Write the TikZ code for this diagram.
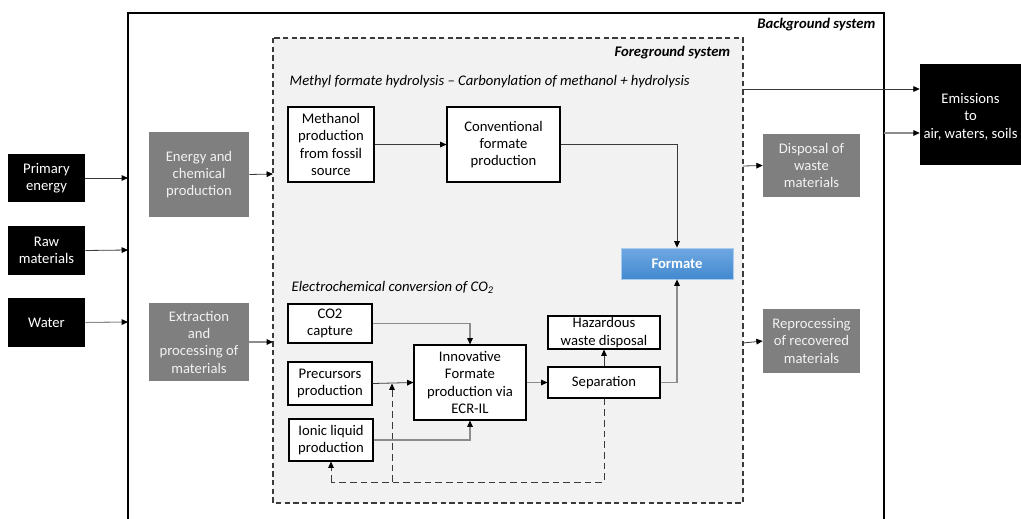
\documentclass[tikz,border=0pt]{standalone}
\usepackage{fontspec}
\setmainfont{Carlito}
\usetikzlibrary{arrows.meta,calc}
\definecolor{boxgray}{HTML}{7F7F7F}
\definecolor{fgfill}{HTML}{F2F2F2}
\definecolor{linedark}{HTML}{3A3A3A}
\definecolor{linelight}{HTML}{8C8C8C}
\definecolor{fmttop}{HTML}{6FA8E2}
\definecolor{fmtbot}{HTML}{4289CF}
\tikzset{
  tip/.style={-{Triangle[length=4.8pt,width=4.2pt,color=black]}},
  flow/.style={tip,draw=linedark,line width=0.6pt},
  flowlight/.style={tip,draw=linelight,line width=0.8pt},
  recycle/.style={draw=linedark,line width=0.6pt,dash pattern=on 5pt off 3pt},
  blackbox/.style={fill=black,text=white,align=center,inner sep=1pt,font=\fontsize{11}{13}\selectfont},
  graybox/.style={fill=boxgray,text=fgfill,align=center,inner sep=1pt,font=\fontsize{11}{13}\selectfont},
  procbox/.style={draw=black,fill=white,line width=0.8pt,align=center,inner sep=1pt,font=\fontsize{11}{13}\selectfont},
  sys/.style={font=\fontsize{11}{13}\selectfont\bfseries\itshape},
  route/.style={font=\fontsize{11}{13}\selectfont\itshape,anchor=west}
}
\begin{document}
\begin{tikzpicture}[x=0.75pt,y=-0.75pt]
\useasboundingbox (0,0) rectangle (1021,518);

% background system (open at the bottom)
\draw[line width=1pt] (128,520) -- (128,13) -- (884,13) -- (884,520);
\node[sys,anchor=east] (bglabel) at (880,25) {Background system};

% foreground system
\draw[fill=fgfill,draw=linedark,line width=0.8pt,dash pattern=on 4pt off 2.5pt]
  (273,38) rectangle (743,503);
\node[sys,anchor=east] (fglabel) at (735,53) {Foreground system};
\node[route] (route1) at (285,82) {Methyl formate hydrolysis -- Carbonylation of methanol + hydrolysis};
\node[route] (route2) at (287,287) {Electrochemical conversion of CO\textsubscript{2}};

% coordinates on the system borders
\coordinate (bgL1) at (128,178);
\coordinate (bgL2) at (128,250);
\coordinate (bgL3) at (128,322);
\coordinate (fgL1) at (273,174);
\coordinate (fgL2) at (273,342);
\coordinate (fgR1) at (743,89);
\coordinate (fgR2) at (743,166);
\coordinate (fgR3) at (743,343);
\coordinate (bgR1) at (884,133);

% inputs
\node[blackbox,minimum width=77*0.75pt,minimum height=48*0.75pt] (pe) at (46.5,178) {Primary\\energy};
\node[blackbox,minimum width=77*0.75pt,minimum height=49*0.75pt] (rm) at (46.5,250.5) {Raw\\materials};
\node[blackbox,minimum width=77*0.75pt,minimum height=49*0.75pt] (wa) at (46.5,322.5) {Water};

% background processes
\node[graybox,minimum width=100*0.75pt,minimum height=85*0.75pt] (ecp) at (199,174.5) {Energy and\\chemical\\production};
\node[graybox,minimum width=100*0.75pt,minimum height=78*0.75pt] (epm) at (199,342) {Extraction\\and\\processing of\\materials};
\node[graybox,minimum width=97*0.75pt,minimum height=63*0.75pt] (dwm) at (811.5,165.5) {Disposal of\\waste\\materials};
\node[graybox,minimum width=97*0.75pt,minimum height=64*0.75pt] (rrm) at (811.5,341) {Reprocessing\\of recovered\\materials};
\node[blackbox,minimum width=101*0.75pt,minimum height=101*0.75pt] (em) at (970.5,114.5) {\\[-2pt]Emissions\\to\\air, waters, soils};

% foreground processes
\node[procbox,minimum width=86*0.75pt,minimum height=75*0.75pt] (mpf) at (331,144.5) {Methanol\\production\\from fossil\\source};
\node[procbox,minimum width=113*0.75pt,minimum height=75*0.75pt] (cfp) at (503.5,144.5) {Conventional\\formate\\production};
\node[draw=fmttop!60!white,line width=0.6pt,top color=fmttop,bottom color=fmtbot,text=white,
      font=\fontsize{11}{13}\selectfont\bfseries,minimum width=112*0.75pt,minimum height=31*0.75pt] (fmt) at (677,263.5) {Formate};
\node[procbox,minimum width=84*0.75pt,minimum height=39*0.75pt] (co2) at (330,323.5) {CO2\\capture};
\node[procbox,minimum width=84*0.75pt,minimum height=43*0.75pt] (pre) at (330,383.5) {Precursors\\production};
\node[procbox,minimum width=84*0.75pt,minimum height=42*0.75pt] (ion) at (331,440) {Ionic liquid\\production};
\node[procbox,minimum width=112*0.75pt,minimum height=75*0.75pt] (ifp) at (470,382.5) {Innovative\\Formate\\production via\\ECR-IL};
\node[procbox,minimum width=112*0.75pt,minimum height=33*0.75pt] (hwd) at (604,332.5) {Hazardous\\waste disposal};
\node[procbox,minimum width=112*0.75pt,minimum height=31*0.75pt] (sep) at (604,382.5) {Separation};

% inputs to the background system
\draw[flow] (pe.east) -- (bgL1);
\draw[flow] (rm.east) -- (bgL2);
\draw[flowlight] (wa.east) -- (bgL3);

% background to foreground
\draw[flow] (ecp.east) -- (fgL1);
\draw[flowlight] (epm.east) -- (fgL2);

% conventional route
\draw[flow] (mpf.east) -- (cfp.west);
\draw[flow] (cfp.east) -| (fmt.north);

% electrochemical route
\draw[flowlight] (co2.east) -| (ifp.north);
\draw[flow] (pre.east) -- (ifp.west);
\draw[flowlight] (ion.east) -| (ifp.south);
\draw[flowlight] (ifp.east) -- (sep.west);
\draw[flow] (sep.north) -- (hwd.south);
\draw[flowlight] (sep.east) -| (fmt.south);

% recycling loop
\coordinate (loopR) at (604,482);
\coordinate (loopM) at (392,482);
\coordinate (loopL) at (331,482);
\coordinate (loopUp) at (392,383.5);
\draw[recycle] (sep.south) -- (loopR) -- (loopL);
\draw[recycle,tip] (loopL) -- (ion.south);
\draw[recycle,tip] (loopM) -- (loopUp);

% outputs
\draw[flow] (fgR1) -- (fgR1 -| em.west);
\draw[flowlight] (bgR1) -- (bgR1 -| em.west);
\draw[flow] (fgR2) -- (dwm.west);
\draw[flow] (fgR3) -- (rrm.west);
\end{tikzpicture}
\end{document}
